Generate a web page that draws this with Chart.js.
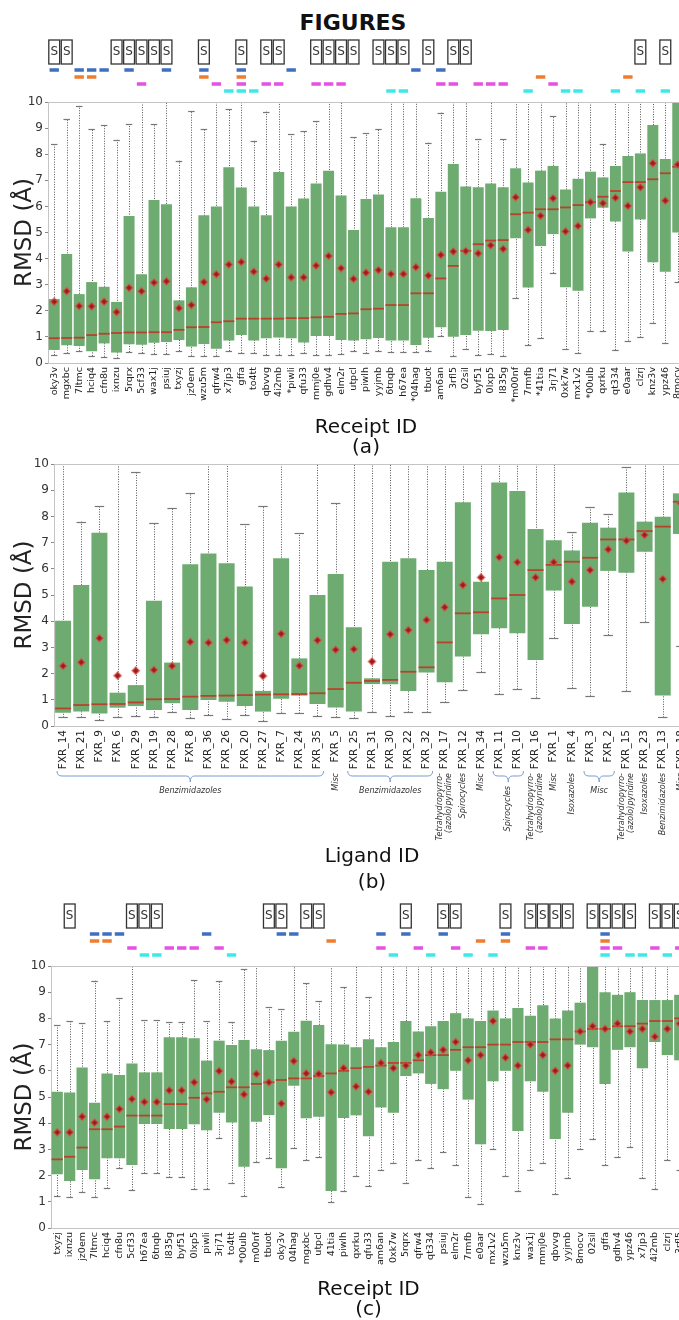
<!DOCTYPE html>
<html>
<head>
<meta charset="utf-8">
<script src="https://cdn.jsdelivr.net/npm/chart.js@4.4.0/dist/chart.umd.min.js"></script>
<style>
html, body { margin: 0; padding: 0; background: #fff; overflow: hidden; }
body { width: 679px; height: 1320px; position: relative; }
canvas { position: absolute; left: 0; }
#figTitle { position: absolute; left: 0; width: 706px; top: 10px; text-align: center; font: bold 22px "DejaVu Sans", sans-serif; color: #111; }
</style>
</head>
<body>
<div id="figTitle">FIGURES</div>
<canvas id="chartA" width="684" height="460" style="top:0"></canvas>
<canvas id="chartB" width="690" height="450" style="top:450px"></canvas>
<canvas id="chartC" width="686" height="420" style="top:900px"></canvas>
<script>
// panel (a) - receipts
const labelsA = ['oky3v','mgxbc','7ltmc','hciq4','cfn8u','ixnzu','5rqrx','5cf33','wax1j','psiuj',
  'txyzj','jz0em','wzu5m','qfrw4','x7jp3','gffa','to4tt','qbvvg','4i2mb','*piwli',
  'qfu33','mmj0e','gdhv4','elm2r','utpcl','piwlh','yyjmb','6tnqb','h67ea','*04hag',
  'tbuot','am6an','3rfl5','02sil','byf51','0lxp5','l835g','*m00nf','7rmfb','*41tia',
  '3rj71','0xk7w','mx1v2','*00ulb','qxrku','qt334','e0aar','clzrj','knz3v','ypz46',
  '8mocv'];
const lowA = [0.30,0.37,0.45,0.27,0.24,0.18,0.42,0.38,0.35,0.35,
  0.46,0.28,0.28,0.28,0.46,0.37,0.37,0.31,0.31,0.31,
  0.37,0.31,0.31,0.35,0.46,0.37,0.46,0.41,0.41,0.41,
  0.46,1.03,0.28,0.52,0.31,0.34,0.28,2.50,0.69,0.95,
  3.44,0.52,0.37,1.24,1.23,0.50,0.86,0.98,1.55,0.75,
  3.10];
const q1A = [0.50,0.68,0.65,0.45,0.75,0.40,0.72,0.70,0.78,0.80,
  0.88,0.63,0.73,0.55,0.86,1.07,0.86,0.95,0.98,0.95,
  0.79,1.03,1.03,0.88,0.86,0.91,0.96,0.86,0.86,0.69,
  0.97,1.37,1.01,1.07,1.24,1.23,1.26,4.78,2.89,4.48,
  4.94,2.90,2.77,5.54,5.95,5.42,4.27,5.50,3.86,3.50,
  5.00];
const medA = [0.95,0.96,0.97,1.07,1.12,1.15,1.17,1.17,1.18,1.18,
  1.27,1.37,1.38,1.56,1.60,1.70,1.70,1.70,1.70,1.72,
  1.72,1.75,1.77,1.88,1.90,2.06,2.08,2.22,2.22,2.67,
  2.67,3.24,3.72,4.30,4.55,4.69,4.71,5.70,5.76,5.89,
  5.89,5.96,6.05,6.16,6.37,6.59,6.93,6.93,7.04,7.27,
  7.52];
const q3A = [2.45,4.18,2.64,3.10,2.92,2.34,5.63,3.40,6.25,6.08,
  2.40,2.90,5.66,6.00,7.50,6.72,6.00,5.66,7.32,6.00,
  6.30,6.88,7.37,6.42,5.10,6.28,6.46,5.20,5.20,6.31,
  5.56,6.56,7.62,6.76,6.73,6.88,6.73,7.46,6.92,7.37,
  7.55,6.65,7.06,7.33,7.11,7.55,7.93,8.03,9.12,7.82,
  10.0];
const highA = [8.40,9.33,9.85,8.98,9.13,8.55,9.15,10.5,9.15,10.5,
  7.75,9.65,8.95,10.5,9.73,10.5,8.52,9.63,10.5,8.76,
  8.89,9.28,10.5,10.5,8.65,8.80,8.98,10.5,10.5,10.5,
  8.44,9.59,10.5,10.5,8.57,10.5,8.57,10.5,10.5,10.5,
  9.46,10.5,10.5,10.5,8.38,10.5,10.5,10.5,10.5,10.5,
  10.5];
const meanA = [2.35,2.75,2.18,2.17,2.35,1.95,2.88,2.75,3.08,3.13,
  2.10,2.22,3.10,3.40,3.77,3.87,3.50,3.23,3.77,3.28,
  3.28,3.73,4.10,3.63,3.22,3.46,3.56,3.41,3.41,3.67,
  3.35,4.14,4.27,4.29,4.20,4.51,4.37,6.35,5.10,5.64,
  6.31,5.04,5.25,6.16,6.12,6.33,6.02,6.73,7.65,6.22,
  7.60];
// category indexes carrying each marker above panel (a)
const sA = [0,1,5,6,7,8,9,12,15,17,18,21,22,23,24,26,27,28,30,32,33,47,49];
const blueA = [0,2,3,4,6,9,12,15,19,29,31];
const orangeA = [2,3,12,15,39,46];
const magentaA = [7,13,15,17,18,21,22,23,31,32,34,35,36,40];
const cyanA = [14,15,16,27,28,38,41,42,45,47,49];

// panel (b) - ligands
const labelsB = ['FXR_14','FXR_21','FXR_9','FXR_6','FXR_29','FXR_19','FXR_28','FXR_8','FXR_36','FXR_26',
  'FXR_20','FXR_27','FXR_7','FXR_24','FXR_35','FXR_5','FXR_25','FXR_31','FXR_30','FXR_22',
  'FXR_32','FXR_17','FXR_12','FXR_34','FXR_11','FXR_10','FXR_16','FXR_1','FXR_4','FXR_3',
  'FXR_2','FXR_15','FXR_23','FXR_13','FXR_18'];
const lowB = [0.33,0.33,0.23,0.33,0.38,0.33,0.52,0.31,0.42,0.25,
  0.42,0.20,0.51,0.48,0.38,0.33,0.29,0.55,0.38,0.52,
  0.52,0.90,1.37,2.07,1.21,1.40,1.08,3.35,1.44,1.16,
  3.47,1.35,3.98,0.33,3.05];
const q1B = [0.51,0.55,0.48,0.70,0.76,0.61,0.87,0.61,0.99,0.93,
  0.76,0.55,1.04,1.16,0.84,0.71,0.55,1.60,1.59,1.34,
  2.04,1.67,2.65,3.50,3.73,3.54,2.52,5.17,3.89,4.55,
  5.92,5.85,6.65,1.16,7.33];
const medB = [0.67,0.80,0.83,0.84,0.90,1.02,1.03,1.12,1.15,1.16,
  1.18,1.20,1.21,1.22,1.25,1.41,1.65,1.72,1.76,2.07,
  2.24,3.19,4.30,4.34,4.87,5.00,5.95,6.15,6.27,6.42,
  7.12,7.12,7.44,7.61,8.56];
const q3B = [4.02,5.38,7.38,1.27,1.56,4.78,2.42,6.17,6.58,6.21,
  5.32,1.34,6.40,2.58,5.00,5.80,3.77,1.82,6.27,6.40,
  5.95,6.27,8.54,5.51,9.29,8.97,7.52,7.09,6.70,7.76,
  7.57,8.91,7.80,7.99,8.88];
const highB = [10.5,7.80,8.41,10.5,9.71,7.76,8.31,8.88,10.5,10.5,
  7.71,8.40,10.5,7.35,10.5,8.50,10.5,10.5,10.5,10.5,
  10.5,10.5,10.5,10.5,10.5,10.5,10.5,10.5,7.39,8.37,
  8.08,9.90,10.5,10.5,10.5];
const meanB = [2.29,2.43,3.35,1.92,2.11,2.14,2.29,3.21,3.18,3.28,
  3.18,1.91,3.52,2.30,3.27,2.91,2.93,2.46,3.50,3.66,
  4.05,4.53,5.38,5.67,6.44,6.25,5.67,6.25,5.51,5.95,
  6.74,7.07,7.29,5.61,8.50];
// chemical series under the ligand axis ('|' = line break)
const groupStartB = [0,15,16,21,22,23,24,26,27,28,29,31,32,33,34];
const groupEndB = [14,15,20,21,22,23,25,26,27,28,30,31,32,33,34];
const groupNameB = ['Benzimidazoles','Misc','Benzimidazoles','Tetrahydropyrro-|(azolo)pyridine','Spirocycles',
  'Misc','Spirocycles','Tetrahydropyrro-|(azolo)pyridine','Misc','Isoxazoles',
  'Misc','Tetrahydropyrro-|(azolo)pyridine','Isoxazoles','Benzimidazoles','Misc'];

// panel (c) - receipts, second ordering
const labelsC = ['txyzj','ixnzu','jz0em','7ltmc','hciq4','cfn8u','5cf33','h67ea','6tnqb','l835g',
  'byf51','0lxp5','piwli','3rj71','to4tt','*00ulb','m00nf','tbuot','oky3v','04hag',
  'mgxbc','utpcl','41tia','piwlh','qxrku','qfu33','am6an','0xk7w','5rqrx','qfrw4',
  'qt334','psiuj','elm2r','7rmfb','e0aar','mx1v2','wzu5m','knz3v','wax1j','mmj0e',
  'qbvvg','yyjmb','8mocv','02sil','gffa','gdhv4','ypz46','x7jp3','4i2mb','clzrj',
  '3rfl5'];
const lowC = [1.22,1.17,1.39,1.20,1.51,2.28,1.45,2.09,2.09,1.93,
  1.93,1.48,1.49,3.45,1.70,1.23,2.53,2.68,1.55,3.04,
  2.60,2.70,1.00,1.40,2.00,1.60,2.20,2.50,1.70,2.60,
  2.30,2.90,2.40,1.20,0.90,3.00,2.00,1.40,2.20,2.50,
  1.30,1.90,3.00,3.40,2.40,2.70,3.10,1.90,1.50,2.60,
  2.20];
const q1C = [2.05,1.79,2.21,1.86,2.66,2.66,2.40,3.97,3.97,3.78,
  3.78,3.96,3.73,4.40,4.03,2.34,4.06,4.31,2.28,5.43,
  4.19,4.25,1.41,4.20,4.30,3.50,4.60,4.40,5.80,5.90,
  5.50,5.30,6.00,4.90,3.20,5.60,6.00,3.70,5.60,5.20,
  3.40,4.40,7.00,6.90,5.50,6.80,6.90,6.10,7.10,6.60,
  6.40];
const medC = [2.62,2.72,3.07,3.77,3.77,3.87,4.29,4.29,4.29,4.73,
  4.73,4.97,5.14,5.20,5.37,5.37,5.50,5.56,5.65,5.71,
  5.71,5.80,5.90,6.00,6.10,6.15,6.20,6.30,6.30,6.40,
  6.60,6.60,6.80,6.90,6.90,7.00,7.00,7.10,7.10,7.10,
  7.20,7.20,7.50,7.60,7.60,7.70,7.70,7.80,7.90,7.90,
  8.00];
const q3C = [5.20,5.17,6.13,4.78,5.90,5.84,6.28,5.94,5.94,7.28,
  7.28,7.24,6.39,7.15,6.98,7.18,6.82,6.79,7.15,7.49,
  7.91,7.75,7.01,7.00,6.90,7.20,6.90,7.10,7.90,7.50,
  7.70,7.90,8.20,8.00,7.90,8.30,8.00,8.40,8.10,8.50,
  8.00,8.30,8.60,10.0,9.00,8.90,9.00,8.70,8.70,8.70,
  8.90];
const highC = [7.75,7.90,7.84,9.44,7.90,8.77,10.5,7.94,7.94,7.85,
  7.85,9.47,7.90,9.44,7.85,9.90,10.5,8.42,8.36,10.5,
  9.34,8.66,10.5,9.20,10.5,8.80,10.5,10.5,10.5,10.5,
  10.5,10.5,10.5,10.5,10.5,10.5,10.5,10.5,10.5,10.5,
  10.5,10.5,10.5,10.5,10.5,10.5,10.5,10.5,10.5,10.5,
  10.5];
const meanC = [3.65,3.65,4.25,4.02,4.25,4.54,4.92,4.81,4.81,5.25,
  5.25,5.56,4.91,5.99,5.59,5.10,5.88,5.56,4.75,6.37,
  5.90,5.88,5.18,6.10,5.40,5.20,6.30,6.10,6.20,6.60,
  6.70,6.80,7.10,6.40,6.60,7.90,6.50,6.20,7.00,6.60,
  6.00,6.20,7.50,7.70,7.60,7.80,7.50,7.60,7.30,7.60,
  7.80];
const sC = [1,6,7,8,17,18,20,21,28,31,32,36,38,39,40,41,43,44,45,46,48,49,50];
const blueC = [3,4,5,12,18,19,26,28,31,36,44];
const orangeC = [3,4,22,34,36,44];
const magentaC = [6,9,10,11,13,26,29,32,38,39,44,45,48,50];
const cyanC = [7,8,14,27,30,33,35,44,46,47,49];

Chart.defaults.font.family = '"DejaVu Sans", "Liberation Sans", sans-serif';

window.boxCharts = {
    colors: {
        box: '#6dab70',
        median: '#b8432c',
        mean: '#9c1c1c',
        meanHalo: 'rgba(222,86,74,0.55)',
        whisker: '#555',
        cap: '#777',
        frame: '#c4c4c4',
        text: '#333',
        blue: '#3f6fc0',
        orange: '#ee7d31',
        magenta: '#e650e4',
        cyan: '#3ee8e6',
        brace: '#7b9bd0'
    },

    // whiskers, medians, marker strip and group braces, all placed through the chart scales
    makeExtras: function (p) {
        var c = this.colors;
        function vtext(ctx, lines, cx, yTop) {
            lines.forEach(function (t, j) {
                ctx.save();
                ctx.translate(cx + (j - (lines.length - 1) / 2) * 9, yTop);
                ctx.rotate(-Math.PI / 2);
                ctx.textAlign = 'right';
                ctx.textBaseline = 'middle';
                ctx.fillText(t, 0, 0);
                ctx.restore();
            });
        }
        return {
            id: 'boxExtras',
            beforeDatasetsDraw: function (chart) {
                var ctx = chart.ctx, x = chart.scales.x, y = chart.scales.y, a = chart.chartArea;
                var capW = x.width / p.labels.length * 0.26;
                ctx.save();
                ctx.beginPath();
                ctx.rect(a.left, a.top, a.right - a.left, a.bottom - a.top);
                ctx.clip();
                ctx.strokeStyle = c.whisker;
                ctx.lineWidth = 1;
                ctx.setLineDash([1, 1.5]);
                p.labels.forEach(function (_, i) {
                    var px = Math.round(x.getPixelForValue(i)) + 0.5;
                    ctx.beginPath();
                    ctx.moveTo(px, y.getPixelForValue(p.low[i]));
                    ctx.lineTo(px, y.getPixelForValue(p.high[i]));
                    ctx.stroke();
                });
                ctx.setLineDash([]);
                ctx.strokeStyle = c.cap;
                ctx.lineWidth = 1.2;
                p.labels.forEach(function (_, i) {
                    var px = x.getPixelForValue(i);
                    [p.low[i], p.high[i]].forEach(function (v) {
                        if (v > 10) return;
                        var py = Math.round(y.getPixelForValue(v)) + 0.5;
                        ctx.beginPath();
                        ctx.moveTo(px - capW, py);
                        ctx.lineTo(px + capW, py);
                        ctx.stroke();
                    });
                });
                ctx.restore();
            },
            afterDatasetDraw: function (chart, args) {
                if (args.index !== 0) return;
                var ctx = chart.ctx, y = chart.scales.y;
                ctx.save();
                ctx.strokeStyle = c.median;
                ctx.lineWidth = 1.8;
                args.meta.data.forEach(function (bar, i) {
                    var py = y.getPixelForValue(p.med[i]);
                    ctx.beginPath();
                    ctx.moveTo(bar.x - bar.width / 2, py);
                    ctx.lineTo(bar.x + bar.width / 2, py);
                    ctx.stroke();
                });
                ctx.restore();
            },
            afterDraw: function (chart) {
                var ctx = chart.ctx, x = chart.scales.x, a = chart.chartArea;
                var w = x.width / p.labels.length;
                ctx.save();
                ctx.strokeStyle = c.frame;
                ctx.lineWidth = 1;
                ctx.beginPath();
                ctx.moveTo(a.left, a.top + 0.5);
                ctx.lineTo(a.right, a.top + 0.5);
                ctx.stroke();

                if (p.marks) {
                    ctx.font = '12px "DejaVu Sans"';
                    ctx.textAlign = 'center';
                    ctx.textBaseline = 'middle';
                    p.marks.s.forEach(function (i) {
                        var cx = x.getPixelForValue(i);
                        ctx.fillStyle = '#fff';
                        ctx.fillRect(cx - w / 2 + 0.8, a.top - 62, w - 1.6, 24);
                        ctx.strokeStyle = '#333';
                        ctx.lineWidth = 1.3;
                        ctx.strokeRect(cx - w / 2 + 0.8, a.top - 62, w - 1.6, 24);
                        ctx.fillStyle = '#333';
                        ctx.fillText('S', cx, a.top - 50);
                    });
                    [[p.marks.blue, c.blue, -32], [p.marks.orange, c.orange, -25],
                     [p.marks.magenta, c.magenta, -18], [p.marks.cyan, c.cyan, -11]].forEach(function (row) {
                        ctx.fillStyle = row[1];
                        row[0].forEach(function (i) {
                            ctx.fillRect(x.getPixelForValue(i) - 4.7, a.top + row[2] - 1.75, 9.4, 3.5);
                        });
                    });
                }

                if (p.groups) {
                    ctx.font = 'italic 8px "DejaVu Sans"';
                    ctx.fillStyle = '#333';
                    ctx.strokeStyle = c.brace;
                    ctx.lineWidth = 1;
                    p.groups.start.forEach(function (s, g) {
                        var e = p.groups.end[g], name = p.groups.name[g].split('|');
                        var x0 = x.getPixelForValue(s), x1 = x.getPixelForValue(e);
                        if (e > s) {
                            var yb = a.bottom + 50, l = x0 - w / 2 + 3, r = x1 + w / 2 - 3, m = (l + r) / 2;
                            ctx.beginPath();
                            ctx.moveTo(l, yb - 5);
                            ctx.quadraticCurveTo(l, yb, l + 5, yb);
                            ctx.lineTo(m - 4, yb);
                            ctx.quadraticCurveTo(m, yb, m, yb + 6);
                            ctx.quadraticCurveTo(m, yb, m + 4, yb);
                            ctx.lineTo(r - 5, yb);
                            ctx.quadraticCurveTo(r, yb, r, yb - 5);
                            ctx.stroke();
                            if (name.length === 1 && ctx.measureText(name[0]).width < r - l) {
                                ctx.textAlign = 'center';
                                ctx.textBaseline = 'middle';
                                ctx.fillText(name[0], m, yb + 15);
                            } else {
                                vtext(ctx, name, m, yb + 10);
                            }
                        } else {
                            vtext(ctx, name, x0, a.bottom + 47);
                        }
                    });
                }
                ctx.restore();
            }
        };
    },

    renderBoxPanel: function (canvasId, p) {
        var ctx = document.getElementById(canvasId);
        if (!ctx) return;
        var existingChart = Chart.getChart(ctx);
        if (existingChart) existingChart.destroy();
        var c = this.colors;

        new Chart(ctx, {
            type: 'bar',
            data: {
                labels: p.labels,
                datasets: [
                    { data: p.q1.map(function (v, i) { return [v, p.q3[i]]; }), backgroundColor: c.box, borderWidth: 0, barPercentage: p.barPct, categoryPercentage: 1 },
                    { type: 'line', data: p.mean, showLine: false, order: -1, pointStyle: 'rectRot', pointRadius: 3.6, pointBackgroundColor: c.mean, pointBorderColor: c.meanHalo, pointBorderWidth: 1.8 }
                ]
            },
            options: {
                responsive: false, animation: false,
                layout: { autoPadding: false, padding: { top: p.padTop, bottom: p.padBottom, left: 0, right: 0 } },
                plugins: { legend: { display: false }, tooltip: { enabled: false } },
                scales: {
                    x: {
                        grid: { display: false, drawTicks: false },
                        border: { display: true, color: c.frame },
                        ticks: { autoSkip: false, minRotation: 90, maxRotation: 90, padding: 4, color: '#222', font: { size: p.tickSize } },
                        title: { display: true, text: p.title, color: '#111', font: { size: 20, lineHeight: p.titleLine }, padding: { top: 0, bottom: 0 } },
                        afterFit: function (s) { s.height = p.xHeight; s.paddingLeft = 0; s.paddingRight = 0; }
                    },
                    y: {
                        min: 0, max: 10,
                        ticks: { stepSize: 1, color: '#333', font: { size: 12 }, padding: 2 },
                        grid: { display: true, drawOnChartArea: false, tickLength: 3, color: '#888' },
                        border: { display: true, color: c.frame },
                        title: { display: true, text: 'RMSD (Å)', color: '#222', font: { size: 23 }, padding: { top: 11, bottom: 0 } },
                        afterFit: function (s) { s.width = p.axisLeft; s.paddingTop = 0; s.paddingBottom = 0; }
                    }
                }
            },
            plugins: [this.makeExtras(p)]
        });
    }
};

boxCharts.renderBoxPanel('chartA', {
    labels: labelsA, low: lowA, q1: q1A, med: medA, q3: q3A, high: highA, mean: meanA,
    marks: { s: sA, blue: blueA, orange: orangeA, magenta: magentaA, cyan: cyanA },
    axisLeft: 48, xHeight: 95, padTop: 102, padBottom: 2,
    title: ['Receipt ID', '(a)'], titleLine: 1.0, tickSize: 9.5, barPct: 0.88
});

boxCharts.renderBoxPanel('chartB', {
    labels: labelsB, low: lowB, q1: q1B, med: medB, q3: q3B, high: highB, mean: meanB,
    groups: { start: groupStartB, end: groupEndB, name: groupNameB },
    axisLeft: 54, xHeight: 170, padTop: 14, padBottom: 4,
    title: ['Ligand ID', '(b)'], titleLine: 1.3, tickSize: 10.5, barPct: 0.88
});

boxCharts.renderBoxPanel('chartC', {
    labels: labelsC, low: lowC, q1: q1C, med: medC, q3: q3C, high: highC, mean: meanC,
    marks: { s: sC, blue: blueC, orange: orangeC, magenta: magentaC, cyan: cyanC },
    axisLeft: 51, xHeight: 92, padTop: 66, padBottom: 0,
    title: ['Receipt ID', '(c)'], titleLine: 1.0, tickSize: 9.5, barPct: 0.9
});
</script>
</body>
</html>
